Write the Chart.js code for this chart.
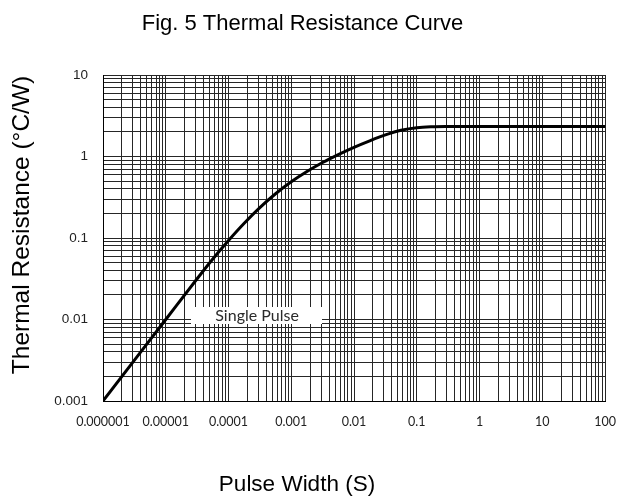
<!DOCTYPE html>
<html>
<head>
<meta charset="utf-8">
<script src="https://cdn.jsdelivr.net/npm/chart.js@4/dist/chart.umd.min.js"></script>
<style>
  html, body { margin: 0; padding: 0; background: #fff; }
  #wrap { width: 619px; height: 499px; position: relative; }
</style>
</head>
<body>
<div id="wrap"><canvas id="c" width="619" height="499"></canvas></div>
<script>
// ---- data ----
const pulseWidth = [1e-6, 1e-5, 3.16e-5, 5.62e-5, 1e-4, 1.78e-4, 3.16e-4, 5.62e-4, 1e-3, 1.78e-3, 3.16e-3, 5.62e-3, 1e-2, 1.78e-2, 3.16e-2, 5.62e-2, 0.1, 0.178, 0.316, 0.562, 1, 10, 100];
const thermalResistance = [0.001, 0.01, 0.0316, 0.0553, 0.0933, 0.152, 0.236, 0.349, 0.49, 0.655, 0.844, 1.056, 1.296, 1.558, 1.841, 2.102, 2.259, 2.318, 2.334, 2.337, 2.337, 2.337, 2.337];
const xDecades = [1e-6, 1e-5, 1e-4, 1e-3, 1e-2, 1e-1, 1, 10, 100];
const xTickLabels = ['0.000001', '0.00001', '0.0001', '0.001', '0.01', '0.1', '1', '10', '100'];
const yDecades = [0.001, 0.01, 0.1, 1, 10];
const yTickLabels = ['0.001', '0.01', '0.1', '1', '10'];
const titleText = 'Fig. 5 Thermal Resistance Curve';
const xTitle = 'Pulse Width (S)';
const yTitle = 'Thermal Resistance (°C/W)';
const noteText = 'Single Pulse';

function buildLogTicks(decades) {
  const t = [];
  for (let i = 0; i < decades.length - 1; i++) {
    for (let k = 1; k <= 9; k++) t.push({ value: k * decades[i] });
  }
  t.push({ value: decades[decades.length - 1] });
  return t;
}
function labelFor(v, decades, labels) {
  for (let i = 0; i < decades.length; i++) {
    if (Math.abs(Math.log10(v) - Math.log10(decades[i])) < 1e-6) return labels[i];
  }
  return '';
}

const notePlugin = {
  id: 'note',
  beforeDatasetsDraw(chart) {
    const { ctx, scales: { x, y } } = chart;
    const cx = x.getPixelForValue(2.75e-4);
    const cy = y.getPixelForValue(0.0113);
    const w = 131, h = 17;
    ctx.save();
    ctx.fillStyle = '#ffffff';
    ctx.fillRect(Math.round(cx - w / 2), Math.round(cy - h / 2), w, h);
    ctx.fillStyle = '#2a2a2a';
    ctx.font = '16px Lato';
    ctx.textAlign = 'center';
    ctx.textBaseline = 'middle';
    ctx.fillText(noteText, cx + 1, cy + 1);
    ctx.restore();
  }
};

const axisTitlePlugin = {
  id: 'axisTitles',
  afterDraw(chart) {
    const { ctx } = chart;
    ctx.save();
    ctx.fillStyle = '#000';
    ctx.textAlign = 'center';
    ctx.textBaseline = 'middle';
    ctx.font = '22.5px "Liberation Sans"';
    ctx.fillText(xTitle, 297, 485);
    ctx.translate(22, 225);
    ctx.rotate(-Math.PI / 2);
    ctx.font = '24.5px "Liberation Sans"';
    ctx.fillText(yTitle, 0, 0);
    ctx.restore();
  }
};

const gridColor = '#262626';

new Chart(document.getElementById('c'), {
  type: 'line',
  data: {
    datasets: [{
      data: pulseWidth.map((p, i) => ({ x: p, y: thermalResistance[i] })),
      borderColor: '#000',
      borderWidth: 3,
      pointRadius: 0,
      fill: false,
      cubicInterpolationMode: 'monotone'
    }]
  },
  options: {
    responsive: false,
    animation: false,
    layout: { padding: { left: 0, right: 14, top: 0, bottom: 0 } },
    plugins: {
      legend: { display: false },
      tooltip: { enabled: false },
      title: {
        display: true,
        text: titleText,
        color: '#000',
        font: { family: 'Liberation Sans', size: 22, weight: 'normal' },
        padding: { top: 11, bottom: 37.6 }
      }
    },
    scales: {
      x: {
        type: 'logarithmic',
        min: 1e-6, max: 100,
        afterBuildTicks(s) { s.ticks = buildLogTicks(xDecades); },
        afterFit(s) { s.height = 98; s.paddingLeft = 0; s.paddingRight = 0; },
        grid: { color: gridColor, lineWidth: 1, drawTicks: false },
        border: { color: '#000', width: 1 },
        ticks: {
          autoSkip: false, maxRotation: 0, minRotation: 0, padding: 13,
          color: '#222', font: { family: 'Lato', size: 12.5 },
          callback: (v) => labelFor(v, xDecades, xTickLabels)
        }
      },
      y: {
        type: 'logarithmic',
        min: 0.001, max: 10,
        afterBuildTicks(s) { s.ticks = buildLogTicks(yDecades); },
        afterFit(s) { s.width = 103; s.paddingTop = 0; s.paddingBottom = 0; },
        grid: { color: gridColor, lineWidth: 1, drawTicks: false },
        border: { color: '#000', width: 1 },
        ticks: {
          autoSkip: false, padding: 15,
          color: '#222', font: { family: 'Liberation Sans', size: 13.5 },
          callback: (v) => labelFor(v, yDecades, yTickLabels)
        }
      }
    }
  },
  plugins: [notePlugin, axisTitlePlugin]
});
</script>
</body>
</html>
